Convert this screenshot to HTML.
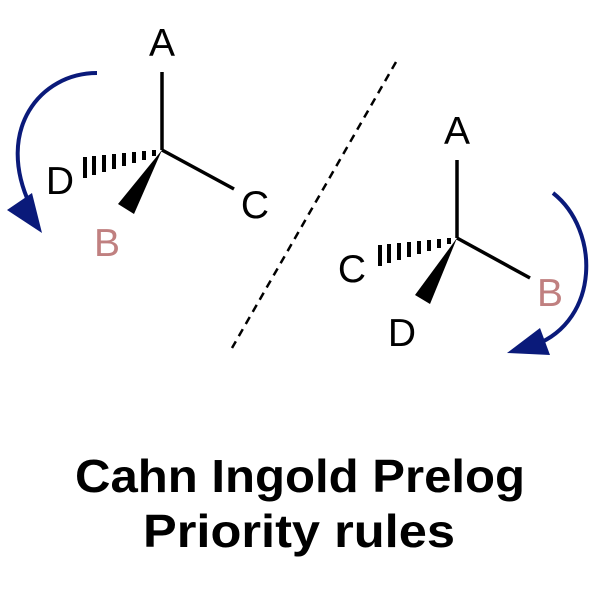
<!DOCTYPE html>
<html><head><style>body{margin:0;background:#fff}</style></head><body>
<svg width="600" height="600" xmlns="http://www.w3.org/2000/svg" font-family="Liberation Sans, sans-serif">
<rect width="600" height="600" fill="#fff"/>
<g stroke="#000" stroke-width="3.5" fill="none">
<line x1="162" y1="150" x2="162" y2="72"/>
<line x1="162" y1="150" x2="234" y2="189"/>
</g>
<polygon points="162,150 118,204 134,214" fill="#000"/>
<g stroke="#000" stroke-width="4">
<line x1="154" y1="150" x2="154" y2="156"/>
<line x1="144" y1="151" x2="144" y2="160"/>
<line x1="134" y1="152" x2="134" y2="163"/>
<line x1="124" y1="153" x2="124" y2="166"/>
<line x1="114" y1="154" x2="114" y2="169"/>
<line x1="104" y1="155" x2="104" y2="172"/>
<line x1="94" y1="156" x2="94" y2="175"/>
<line x1="85" y1="157" x2="85" y2="178"/>
</g>
<text x="162" y="56" font-size="39" text-anchor="middle">A</text>
<text x="60" y="194" font-size="39" text-anchor="middle">D</text>
<text x="255" y="218" font-size="39" text-anchor="middle">C</text>
<text x="107" y="256" font-size="39" text-anchor="middle" fill="#c08080">B</text>
<path d="M97,73 C40,73 -5,130 30,205" stroke="#0a1a7a" stroke-width="4" fill="none"/>
<polygon points="7,210 42,233 32,193" fill="#0a1a7a"/>
<line x1="396" y1="62" x2="232" y2="348" stroke="#000" stroke-width="2.5" stroke-dasharray="8,6"/>
<g stroke="#000" stroke-width="3.5" fill="none">
<line x1="457" y1="238" x2="457" y2="160"/>
<line x1="457" y1="238" x2="530" y2="278"/>
</g>
<polygon points="457,238 415,295 430,304" fill="#000"/>
<g stroke="#000" stroke-width="4">
<line x1="449" y1="238" x2="449" y2="244"/>
<line x1="439" y1="239" x2="439" y2="248"/>
<line x1="429" y1="240" x2="429" y2="251"/>
<line x1="419" y1="241" x2="419" y2="254"/>
<line x1="409" y1="242" x2="409" y2="257"/>
<line x1="399" y1="243" x2="399" y2="260"/>
<line x1="389" y1="244" x2="389" y2="263"/>
<line x1="380" y1="245" x2="380" y2="266"/>
</g>
<text x="457" y="144" font-size="39" text-anchor="middle">A</text>
<text x="352" y="282" font-size="39" text-anchor="middle">C</text>
<text x="402" y="346" font-size="39" text-anchor="middle">D</text>
<text x="550" y="306" font-size="39" text-anchor="middle" fill="#c08080">B</text>
<path d="M553,193 C600,230 600,320 535,345" stroke="#0a1a7a" stroke-width="4" fill="none"/>
<polygon points="507,353 550,355 540,328" fill="#0a1a7a"/>
<text x="75" y="492" font-size="46" font-weight="bold" textLength="450" lengthAdjust="spacingAndGlyphs">Cahn Ingold Prelog</text>
<text x="143" y="547" font-size="46" font-weight="bold" textLength="312" lengthAdjust="spacingAndGlyphs">Priority rules</text>
</svg>
</body></html>
